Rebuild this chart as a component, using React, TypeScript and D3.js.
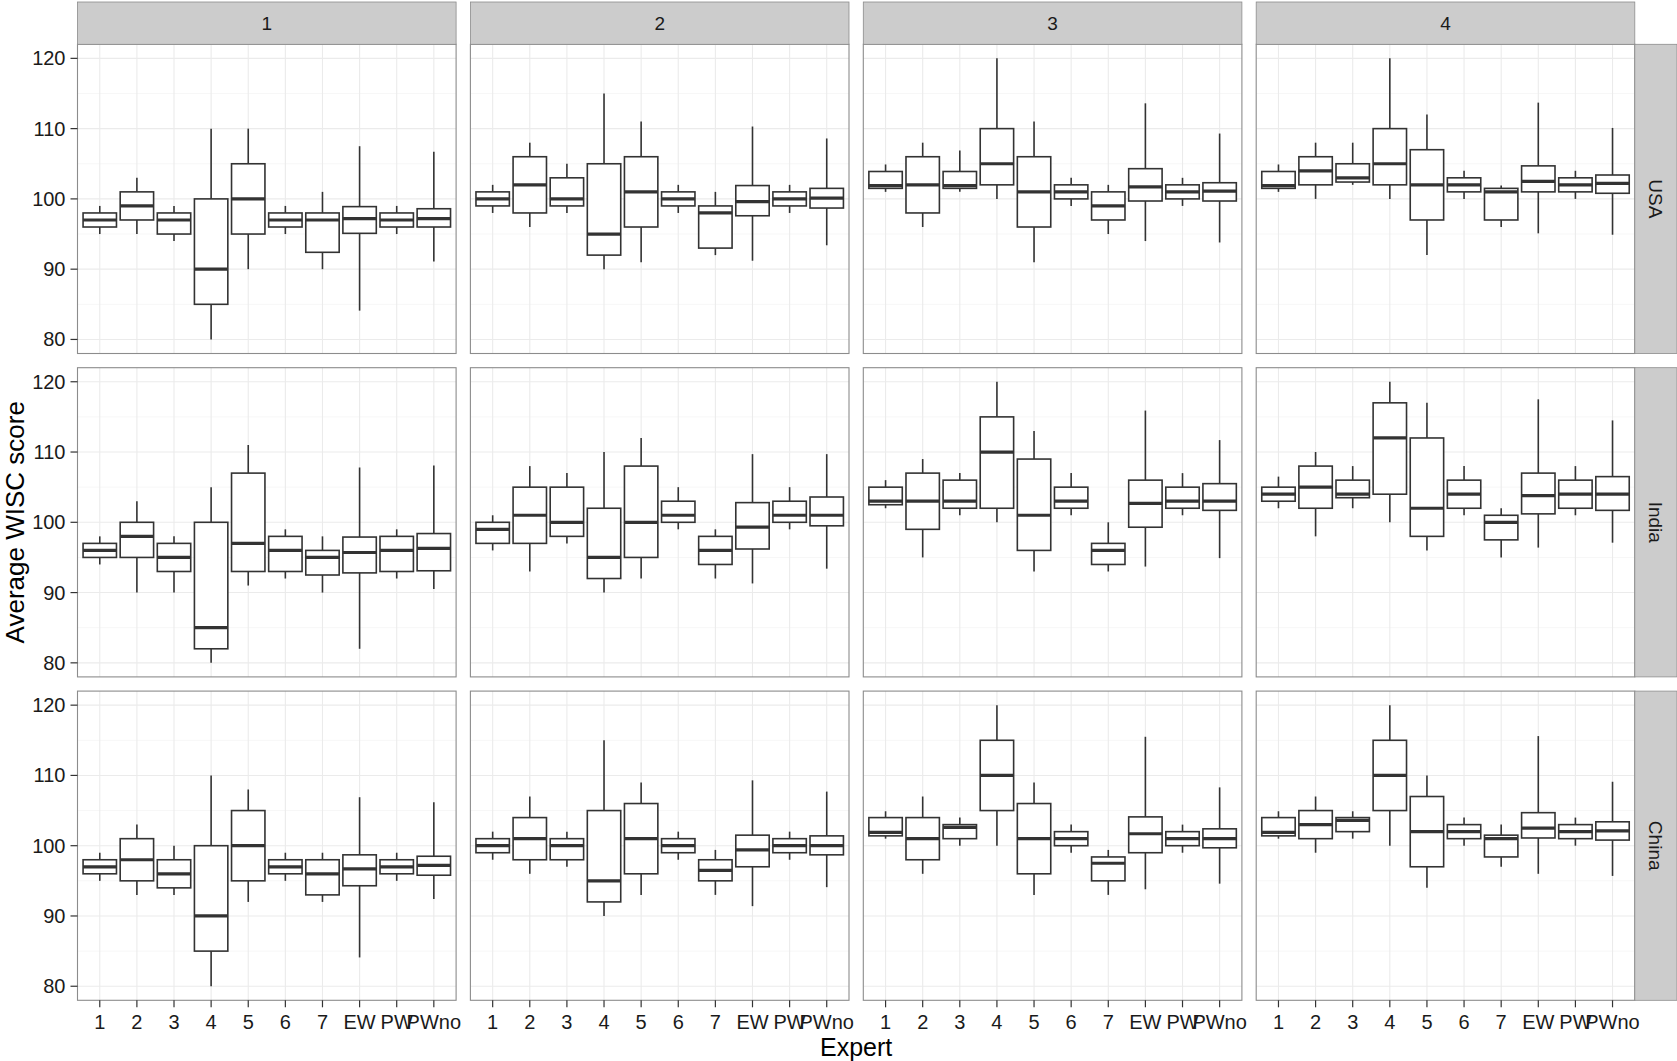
import { useEffect, useRef } from "react";
import * as d3 from "d3";

const experts = ["1", "2", "3", "4", "5", "6", "7", "EW", "PW", "PWno"];
const conditions = ["1", "2", "3", "4"];
const countries = ["USA", "India", "China"];
const yTicks = [80, 90, 100, 110, 120];
const yMinor = [85, 95, 105, 115];

// each entry: [lower whisker, Q1, median, Q3, upper whisker], one per expert
const usa1 = [[95, 96, 97, 98, 99], [95, 97, 99, 101, 103], [94, 95, 97, 98, 99], [80, 85, 90, 100, 110], [90, 95, 100, 105, 110], [95, 96, 97, 98, 99], [90, 92.4, 97, 98, 101], [84.1, 95.1, 97.2, 98.9, 107.5], [95, 96, 97, 98, 99], [91.1, 96, 97.2, 98.6, 106.7]];
const usa2 = [[98, 99, 100, 101, 102], [96, 98, 102, 106, 108], [98, 99, 100, 103, 105], [90, 92, 95, 105, 115], [91, 96, 101, 106, 111], [98, 99, 100, 101, 102], [92, 93, 98, 99, 101], [91.2, 97.6, 99.6, 101.9, 110.3], [98, 99, 100, 101, 102], [93.4, 98.7, 100.1, 101.5, 108.6]];
const usa3 = [[101, 101.5, 101.9, 103.9, 104.9], [96, 98, 102, 106, 108], [101, 101.5, 101.9, 103.9, 106.9], [100, 102, 105, 110, 120], [91, 96, 101, 106, 111], [99, 100, 101, 102, 103], [95, 97, 99, 101, 102], [94, 99.7, 101.7, 104.3, 113.6], [99, 100, 101, 102, 103], [93.8, 99.7, 101.1, 102.3, 109.3]];
const usa4 = [[101, 101.5, 101.9, 103.9, 104.9], [100, 102, 104, 106, 108], [102, 102.4, 103, 105, 108], [100, 102, 105, 110, 120], [92, 97, 102, 107, 112], [100, 101, 102, 103, 104], [96, 97, 101, 101.5, 101.9], [95.1, 101, 102.5, 104.7, 113.7], [100, 101, 102, 103, 104], [94.9, 100.8, 102.2, 103.4, 110.1]];

const india1 = [[94, 95, 96, 97, 98], [90, 95, 98, 100, 103], [90, 93, 95, 97, 98], [80, 82, 85, 100, 105], [91, 93, 97, 107, 111], [92, 93, 96, 98, 99], [90, 92.5, 95, 96, 98], [82, 92.8, 95.7, 97.9, 107.8], [92, 93, 96, 98, 99], [90.5, 93.1, 96.3, 98.4, 108.1]];
const india2 = [[96, 97, 99, 100, 101], [93, 97, 101, 105, 108], [97, 98, 100, 105, 107], [90, 92, 95, 102, 110], [92, 95, 100, 108, 112], [99, 100, 101, 103, 105], [92, 94, 96, 98, 99], [91.3, 96.2, 99.3, 102.8, 109.7], [99, 100, 101, 103, 105], [93.4, 99.5, 101, 103.6, 109.7]];
const india3 = [[102, 102.5, 103, 105, 106], [95, 99, 103, 107, 109], [101, 102, 103, 106, 107], [100, 102, 110, 115, 120], [93, 96, 101, 109, 113], [101, 102, 103, 105, 107], [93, 94, 96, 97, 100], [93.7, 99.3, 102.7, 106, 115.9], [101, 102, 103, 105, 107], [94.9, 101.7, 103, 105.5, 111.7]];
const india4 = [[102, 103, 104, 105, 106.5], [98, 102, 105, 108, 110], [102, 103.5, 104, 106, 108], [100, 104, 112, 117, 120], [96, 98, 102, 112, 117], [101, 102, 104, 106, 108], [95, 97.5, 100, 101, 102], [96.4, 101.2, 103.8, 107, 117.5], [101, 102, 104, 106, 108], [97.1, 101.7, 104, 106.5, 114.5]];

const china1 = [[95, 96, 97, 98, 99], [93, 95, 98, 101, 103], [93, 94, 96, 98, 100], [80, 85, 90, 100, 110], [92, 95, 100, 105, 108], [95, 96, 97, 98, 99], [92, 93, 96, 98, 99], [84.1, 94.3, 96.7, 98.7, 106.9], [95, 96, 97, 98, 99], [92.4, 95.8, 97.2, 98.5, 106.2]];
const china2 = [[98, 99, 100, 101, 102], [96, 98, 101, 104, 107], [97, 98, 100, 101, 102], [90, 92, 95, 105, 115], [93, 96, 101, 106, 109], [98, 99, 100, 101, 102], [93, 95, 96.5, 98, 99.4], [91.4, 97, 99.4, 101.5, 109.3], [98, 99, 100, 101, 102], [94.1, 98.7, 100, 101.4, 107.7]];
const china3 = [[101, 101.4, 101.9, 104, 104.9], [96, 98, 101, 104, 107], [100, 101, 102.6, 103, 104], [100, 105, 110, 115, 120], [93, 96, 101, 106, 109], [99, 100, 101, 102, 103], [93, 95, 97.5, 98.4, 99.4], [93.8, 99, 101.7, 104.1, 115.5], [99, 100, 101, 102, 103], [94.6, 99.7, 101, 102.4, 108.3]];
const china4 = [[101, 101.4, 101.9, 104, 104.9], [99, 101, 103, 105, 107], [101, 102, 103.6, 104, 104.9], [100, 105, 110, 115, 120], [94, 97, 102, 107, 110], [100, 101, 102, 103, 104], [97, 98.4, 101, 101.5, 103], [96, 101.1, 102.5, 104.7, 115.6], [100, 101, 102, 103, 104], [95.7, 100.8, 102.1, 103.4, 109.1]];

const panelData = [
    [usa1, usa2, usa3, usa4],
    [india1, india2, india3, india4],
    [china1, china2, china3, china4],
];

const font = "'Liberation Sans', Arial, sans-serif";

export default function App() {
    const ref = useRef<SVGSVGElement>(null);

    useEffect(() => {
        const svg = d3.select(ref.current);
        svg.selectAll("*").remove();

        // panel geometry
        const left = 77.5, top = 44.3;
        const pw = 378.6, ph = 309.2;
        const gapX = 14.3, gapY = 14.2;
        const stripH = 42.3, stripW = 42.2;
        const boxColor = "#333333";

        svg.append("rect").attr("width", 1677).attr("height", 1061).attr("fill", "white");

        countries.forEach((country, r) => {
            conditions.forEach((cond, c) => {
                const px = left + c * (pw + gapX);
                const py = top + r * (ph + gapY);

                const x = d3.scalePoint().domain(experts).range([px, px + pw]).padding(0.6);
                const y = d3.scaleLinear().domain([78, 122]).range([py + ph, py]);
                const bw = x.step() * 0.9;

                const g = svg.append("g");
                g.append("rect").attr("x", px).attr("y", py).attr("width", pw).attr("height", ph).attr("fill", "white");

                // grid
                g.selectAll(".minor").data(yMinor).enter().append("line")
                    .attr("x1", px).attr("x2", px + pw)
                    .attr("y1", (d) => y(d)).attr("y2", (d) => y(d))
                    .attr("stroke", "#f7f7f7").attr("stroke-width", 1);
                g.selectAll(".major").data(yTicks).enter().append("line")
                    .attr("x1", px).attr("x2", px + pw)
                    .attr("y1", (d) => y(d)).attr("y2", (d) => y(d))
                    .attr("stroke", "#ebebeb").attr("stroke-width", 1.1);
                g.selectAll(".vgrid").data(experts).enter().append("line")
                    .attr("x1", (d) => x(d)).attr("x2", (d) => x(d))
                    .attr("y1", py).attr("y2", py + ph)
                    .attr("stroke", "#ebebeb").attr("stroke-width", 1.1);

                // boxplots
                const data = panelData[r][c];
                const boxes = g.selectAll(".box").data(data).enter().append("g");
                boxes.append("line")
                    .attr("x1", (d, i) => x(experts[i])).attr("x2", (d, i) => x(experts[i]))
                    .attr("y1", (d) => y(d[3])).attr("y2", (d) => y(d[4]))
                    .attr("stroke", boxColor).attr("stroke-width", 1.6);
                boxes.append("line")
                    .attr("x1", (d, i) => x(experts[i])).attr("x2", (d, i) => x(experts[i]))
                    .attr("y1", (d) => y(d[1])).attr("y2", (d) => y(d[0]))
                    .attr("stroke", boxColor).attr("stroke-width", 1.6);
                boxes.append("rect")
                    .attr("x", (d, i) => x(experts[i]) - bw / 2)
                    .attr("width", bw)
                    .attr("y", (d) => y(d[3]))
                    .attr("height", (d) => y(d[1]) - y(d[3]))
                    .attr("fill", "white")
                    .attr("stroke", boxColor).attr("stroke-width", 1.6);
                boxes.append("line")
                    .attr("x1", (d, i) => x(experts[i]) - bw / 2).attr("x2", (d, i) => x(experts[i]) + bw / 2)
                    .attr("y1", (d) => y(d[2])).attr("y2", (d) => y(d[2]))
                    .attr("stroke", boxColor).attr("stroke-width", 3.2);

                // panel border
                g.append("rect").attr("x", px).attr("y", py).attr("width", pw).attr("height", ph)
                    .attr("fill", "none").attr("stroke", "#8c8c8c").attr("stroke-width", 1.1);

                // top strips
                if (r === 0) {
                    svg.append("rect").attr("x", px).attr("y", top - stripH).attr("width", pw).attr("height", stripH)
                        .attr("fill", "#cccccc").attr("stroke", "#8c8c8c").attr("stroke-width", 0.8);
                    svg.append("text").attr("x", px + pw / 2).attr("y", top - stripH / 2)
                        .attr("text-anchor", "middle").attr("dominant-baseline", "central")
                        .attr("font-family", font).attr("font-size", 19).attr("fill", "#1a1a1a")
                        .text(cond);
                }

                // right strips
                if (c === conditions.length - 1) {
                    const sx = px + pw;
                    svg.append("rect").attr("x", sx).attr("y", py).attr("width", stripW).attr("height", ph)
                        .attr("fill", "#cccccc").attr("stroke", "#8c8c8c").attr("stroke-width", 0.8);
                    svg.append("text")
                        .attr("transform", `translate(${sx + stripW / 2},${py + ph / 2}) rotate(90)`)
                        .attr("text-anchor", "middle").attr("dominant-baseline", "central")
                        .attr("font-family", font).attr("font-size", 19).attr("fill", "#1a1a1a")
                        .text(country);
                }

                // y axis
                if (c === 0) {
                    const ax = svg.append("g");
                    ax.selectAll("line").data(yTicks).enter().append("line")
                        .attr("x1", px - 7).attr("x2", px)
                        .attr("y1", (d) => y(d)).attr("y2", (d) => y(d))
                        .attr("stroke", "#333333").attr("stroke-width", 1.2);
                    ax.selectAll("text").data(yTicks).enter().append("text")
                        .attr("x", px - 12).attr("y", (d) => y(d))
                        .attr("text-anchor", "end").attr("dominant-baseline", "central")
                        .attr("font-family", font).attr("font-size", 20).attr("fill", "#1a1a1a")
                        .text((d) => d);
                }

                // x axis
                if (r === countries.length - 1) {
                    const ax = svg.append("g");
                    ax.selectAll("line").data(experts).enter().append("line")
                        .attr("x1", (d) => x(d)).attr("x2", (d) => x(d))
                        .attr("y1", py + ph).attr("y2", py + ph + 7)
                        .attr("stroke", "#333333").attr("stroke-width", 1.2);
                    ax.selectAll("text").data(experts).enter().append("text")
                        .attr("x", (d) => x(d)).attr("y", py + ph + 28.5)
                        .attr("text-anchor", "middle")
                        .attr("font-family", font).attr("font-size", 20).attr("fill", "#1a1a1a")
                        .text((d) => d);
                }
            });
        });

        const plotRight = left + 4 * pw + 3 * gapX;
        const plotBottom = top + 3 * ph + 2 * gapY;

        svg.append("text")
            .attr("x", (left + plotRight) / 2).attr("y", 1055.5)
            .attr("text-anchor", "middle")
            .attr("font-family", font).attr("font-size", 25).attr("fill", "#000")
            .text("Expert");

        svg.append("text")
            .attr("transform", `translate(24,${(top + plotBottom) / 2}) rotate(-90)`)
            .attr("text-anchor", "middle")
            .attr("font-family", font).attr("font-size", 26).attr("fill", "#000")
            .text("Average WISC score");
    }, []);

    return (
        <svg ref={ref} width={1677} height={1061} style={{ position: "absolute", left: 0, top: 0 }}></svg>
    );
}
